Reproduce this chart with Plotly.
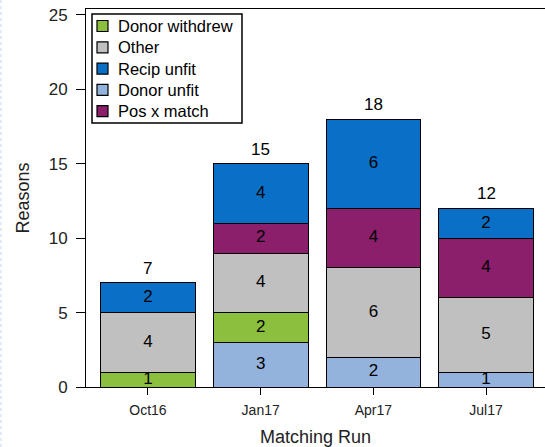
import plotly.graph_objects as go

categories = ["Oct16", "Jan17", "Apr17", "Jul17"]
donor_unfit = [0, 3, 2, 1]
donor_withdrew = [1, 2, 0, 0]
other = [4, 4, 6, 5]
pos_x_match = [0, 2, 4, 4]
recip_unfit = [2, 4, 6, 2]
totals = [7, 15, 18, 12]

# stacking order bottom -> top, with legend position
series = [
    ("Donor unfit", donor_unfit, "#93b3dc", 3),
    ("Donor withdrew", donor_withdrew, "#8dbf3f", 0),
    ("Other", other, "#c0c0c0", 1),
    ("Pos x match", pos_x_match, "#8b1f6b", 4),
    ("Recip unfit", recip_unfit, "#0a6fc6", 2),
]

FONT = "Liberation Sans, Arial, sans-serif"
W, H = 545, 447
L, R, T, B = 86, 0, 9, 60
PW, PH = W - L - R, H - T - B


def px(x):
    return (x - L) / PW


def py(y):
    return (H - B - y) / PH


fig = go.Figure()
base = [0] * len(categories)
for name, vals, color, rank in series:
    fig.add_trace(go.Bar(
        x=categories, y=vals, name=name, showlegend=False,
        marker=dict(color=color, line=dict(color="black", width=1)),
        width=0.84,
    ))
    mids = [b + v / 2 if v else None for b, v in zip(base, vals)]
    fig.add_trace(go.Scatter(
        x=categories, y=mids, mode="text",
        text=[str(v) if v else "" for v in vals],
        textposition="middle center", showlegend=False, hoverinfo="skip",
        textfont=dict(color="black", size=17, family=FONT),
    ))
    base = [b + v for b, v in zip(base, vals)]

for c, t in zip(categories, totals):
    fig.add_annotation(x=c, y=t, text=str(t), showarrow=False,
                       yanchor="bottom", yshift=3,
                       font=dict(color="black", size=17, family=FONT))

# legend box drawn in paper coordinates
fig.add_shape(type="rect", xref="paper", yref="paper",
              x0=px(92), x1=px(242), y0=py(14), y1=py(123),
              line=dict(color="black", width=1.5), fillcolor="white", layer="above")
for name, vals, color, rank in series:
    cy = 26 + rank * 21.3
    fig.add_shape(type="rect", xref="paper", yref="paper",
                  x0=px(97), x1=px(108), y0=py(cy - 5.5), y1=py(cy + 5.5),
                  line=dict(color="black", width=1.2), fillcolor=color, layer="above")
    fig.add_annotation(xref="paper", yref="paper", x=px(116), y=py(cy),
                       xanchor="left", yanchor="middle", text=name, showarrow=False,
                       font=dict(color="black", size=16.5, family=FONT))

# faint dotted page border on the left edge
fig.add_shape(type="line", xref="paper", yref="paper",
              x0=px(1), x1=px(1), y0=py(0), y1=py(H),
              line=dict(color="#d6e4f7", width=1.5, dash="dot"))

fig.update_layout(
    barmode="stack",
    width=W, height=H,
    margin=dict(l=L, r=R, t=T, b=B),
    plot_bgcolor="white", paper_bgcolor="white",
    font=dict(family=FONT, color="#222", size=14),
    showlegend=False,
    xaxis=dict(range=[-0.55, 3.523], showline=True, linecolor="black", linewidth=1,
               mirror=True, ticks="outside", ticklen=7, tickcolor="black",
               tickfont=dict(size=14, color="#222"), ticklabelstandoff=3,
               title=dict(text="Matching Run", font=dict(size=18, color="#222"), standoff=14),
               showgrid=False),
    yaxis=dict(range=[0, 25.4], showline=True, linecolor="black", linewidth=1,
               mirror=False, ticks="outside", ticklen=9, tickcolor="black",
               tickvals=[0, 5, 10, 15, 20, 25], tickfont=dict(size=17, color="#222"),
               ticklabelstandoff=5,
               title=dict(text="Reasons", font=dict(size=18, color="#222"), standoff=14),
               showgrid=False, zeroline=False),
)

fig.write_html("out.html", config={"displayModeBar": False},
               post_script="document.body.style.margin='0';")
